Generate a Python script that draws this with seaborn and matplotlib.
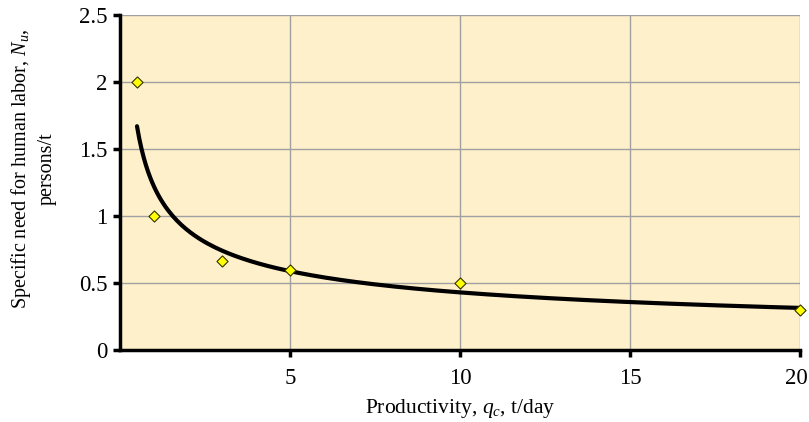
import numpy as np
import pandas as pd
import matplotlib
matplotlib.use("Agg")
import matplotlib.pyplot as plt
import matplotlib.transforms as mtransforms
import seaborn as sns

# Data
productivity = [0.5, 1, 3, 5, 10, 20]
labor_need = [2.0, 1.0, 0.667, 0.6, 0.5, 0.3]
x_ticks = [5, 10, 15, 20]
y_ticks = [0, 0.5, 1, 1.5, 2, 2.5]
y_tick_labels = ["0", "0.5", "1", "1.5", "2", "2.5"]

sns.set_theme(style="white")
plt.rcParams['font.family'] = ['Liberation Serif', 'DejaVu Serif']
plt.rcParams['mathtext.fontset'] = 'custom'
plt.rcParams['mathtext.rm'] = 'Liberation Serif'
plt.rcParams['mathtext.it'] = 'Liberation Serif:italic'

df = pd.DataFrame({"x": productivity, "y": labor_need})

# Power trendline fitted from the data (log-log least squares)
b, ln_a = np.polyfit(np.log(df["x"]), np.log(df["y"]), 1)
xs = np.linspace(min(productivity), max(productivity), 300)
trend = pd.DataFrame({"x": xs, "y": np.exp(ln_a) * xs ** b})

fig = plt.figure(figsize=(8.09, 4.22), dpi=100)
ax = fig.add_axes([120 / 809, 1 - 350 / 422, 680 / 809, 335 / 422])
ax.set_facecolor("#FFF0CC")

sns.lineplot(data=trend, x="x", y="y", ax=ax, color="black", linewidth=3, zorder=3)
sns.scatterplot(data=df, x="x", y="y", ax=ax, marker="D", s=32, color="#FFFF00",
                edgecolor="#333300", linewidth=0.8, zorder=4, clip_on=False)

ax.set_xlim(0, 20)
ax.set_ylim(0, 2.5)
ax.set_xticks(x_ticks)
ax.set_xticklabels([str(t) for t in x_ticks])
ax.set_yticks(y_ticks)
ax.set_yticklabels(y_tick_labels)
ax.grid(True, color="#A0A0A0", linewidth=1)
ax.set_axisbelow(True)

for s in ["top", "right"]:
    ax.spines[s].set_visible(False)
for s in ["left", "bottom"]:
    ax.spines[s].set_visible(True)
    ax.spines[s].set_color("black")
    ax.spines[s].set_linewidth(2.5)

ax.tick_params(axis="both", direction="out", length=5, width=2.5, color="black",
               labelsize=16.5, labelcolor="black", left=True, bottom=True)
ax.tick_params(axis="y", pad=4)
ax.tick_params(axis="x", pad=8)

# keep the last x tick label inside the figure, as in the reference
last = ax.get_xticklabels()[-1]
last.set_transform(last.get_transform() +
                   mtransforms.ScaledTranslation(-4 / 100, 0, fig.dpi_scale_trans))

ax.set_xlabel(r"Productivity, $q_c$, t/day", fontsize=15.5, color="black", labelpad=6)
ax.set_ylabel("")
fig.text(33 / 809, 1 - 169 / 422,
         "Specific need for human labor, $N_u$,\npersons/t",
         rotation=90, ha="center", va="center", multialignment="center",
         fontsize=14.5, color="black", linespacing=1.35)

fig.savefig("out.png", dpi=100, facecolor="white")
